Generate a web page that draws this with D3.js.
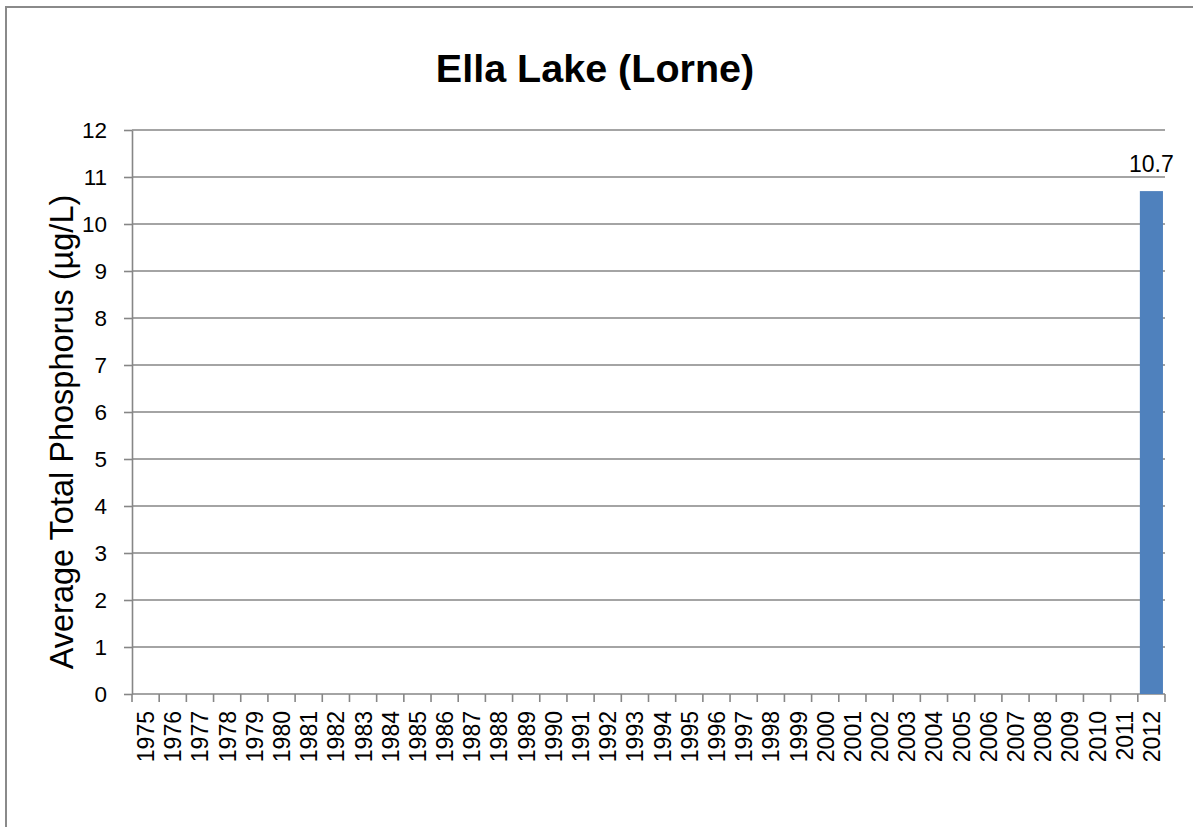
<!DOCTYPE html>
<html>
<head>
<meta charset="utf-8">
<script src="https://cdn.jsdelivr.net/npm/d3@7"></script>
<style>
  body { margin: 0; background: #fff; }
  svg { display: block; }
</style>
</head>
<body>
<div id="chart"></div>
<script>
// chart data
const years = d3.range(1975, 2013).map(String);
const phosphorus = years.map(y => (y === "2012" ? 10.7 : null));
const yTicks = d3.range(0, 13);
const chartTitle = "Ella Lake (Lorne)";
const yTitle = "Average Total Phosphorus (µg/L)";

const width = 1193;
const height = 827;
const margin = { top: 130, right: 28, bottom: 133, left: 132 };
const gridColor = "#868686";

const svg = d3.select("#chart")
    .append("svg")
    .attr("width", width)
    .attr("height", height);

// outer chart border (runs off the right and bottom edges)
svg.append("rect")
    .attr("x", 6)
    .attr("y", 7)
    .attr("width", width + 20)
    .attr("height", height + 20)
    .attr("fill", "none")
    .attr("stroke", "#8a8a8a")
    .attr("stroke-width", 2);

const x = d3.scaleBand()
    .domain(years)
    .range([margin.left, width - margin.right])
    .paddingInner(0.15)
    .paddingOuter(0.075);

const y = d3.scaleLinear()
    .domain([0, 12])
    .range([height - margin.bottom, margin.top]);

// gridlines
svg.append("g")
    .selectAll("line")
    .data(yTicks.slice(1))
    .join("line")
    .attr("x1", margin.left)
    .attr("x2", width - margin.right)
    .attr("y1", d => y(d))
    .attr("y2", d => y(d))
    .attr("stroke", gridColor)
    .attr("stroke-width", 1.6);

// y axis
const yAxis = svg.append("g")
    .attr("transform", `translate(${margin.left},0)`)
    .call(d3.axisLeft(y).tickValues(yTicks).tickSize(8).tickPadding(17).tickSizeOuter(0));
yAxis.select(".domain").attr("stroke", gridColor).attr("stroke-width", 1.6);
yAxis.selectAll(".tick line").attr("stroke", gridColor).attr("stroke-width", 1.6);
yAxis.selectAll(".tick text")
    .attr("font-family", "'Liberation Sans', Arial, sans-serif")
    .attr("font-size", 22.5)
    .attr("fill", "#000");

// x axis line + ticks at category boundaries
const step = x.step();
const x0 = x.range()[0];
const edges = d3.range(years.length + 1).map(i => x0 + i * step);

svg.append("line")
    .attr("x1", x.range()[0])
    .attr("x2", x.range()[1])
    .attr("y1", y(0))
    .attr("y2", y(0))
    .attr("stroke", gridColor)
    .attr("stroke-width", 1.6);

svg.append("g")
    .selectAll("line")
    .data(edges)
    .join("line")
    .attr("x1", d => d)
    .attr("x2", d => d)
    .attr("y1", y(0))
    .attr("y2", y(0) + 8)
    .attr("stroke", gridColor)
    .attr("stroke-width", 1.6);

// x labels, rotated
svg.append("g")
    .selectAll("text")
    .data(years)
    .join("text")
    .attr("transform", d => `translate(${x(d) + x.bandwidth() / 2 + 8.5},${y(0) + 17}) rotate(-90)`)
    .attr("text-anchor", "end")
    .attr("font-family", "'Liberation Sans', Arial, sans-serif")
    .attr("font-size", 23)
    .attr("fill", "#000")
    .text(d => d);

// bars
const barData = years.map((d, i) => ({ year: d, value: phosphorus[i] }))
    .filter(d => d.value != null);

svg.append("g")
    .selectAll("rect")
    .data(barData)
    .join("rect")
    .attr("x", d => x(d.year))
    .attr("y", d => y(d.value))
    .attr("width", x.bandwidth())
    .attr("height", d => y(0) - y(d.value))
    .attr("fill", "#4F81BD");

// value labels
svg.append("g")
    .selectAll("text")
    .data(barData)
    .join("text")
    .attr("x", d => x(d.year) + x.bandwidth() / 2)
    .attr("y", d => y(d.value) - 19)
    .attr("text-anchor", "middle")
    .attr("font-family", "'Liberation Sans', Arial, sans-serif")
    .attr("font-size", 23)
    .attr("fill", "#000")
    .text(d => d.value);

// title
svg.append("text")
    .attr("x", 595)
    .attr("y", 82)
    .attr("text-anchor", "middle")
    .attr("font-family", "'Liberation Sans', Arial, sans-serif")
    .attr("font-weight", "bold")
    .attr("font-size", 39.5)
    .attr("fill", "#000")
    .text(chartTitle);

// y axis title
svg.append("text")
    .attr("transform", "translate(73,432) rotate(-90)")
    .attr("text-anchor", "middle")
    .attr("font-family", "'Liberation Sans', Arial, sans-serif")
    .attr("font-size", 32.5)
    .attr("fill", "#000")
    .text(yTitle);
</script>
</body>
</html>
